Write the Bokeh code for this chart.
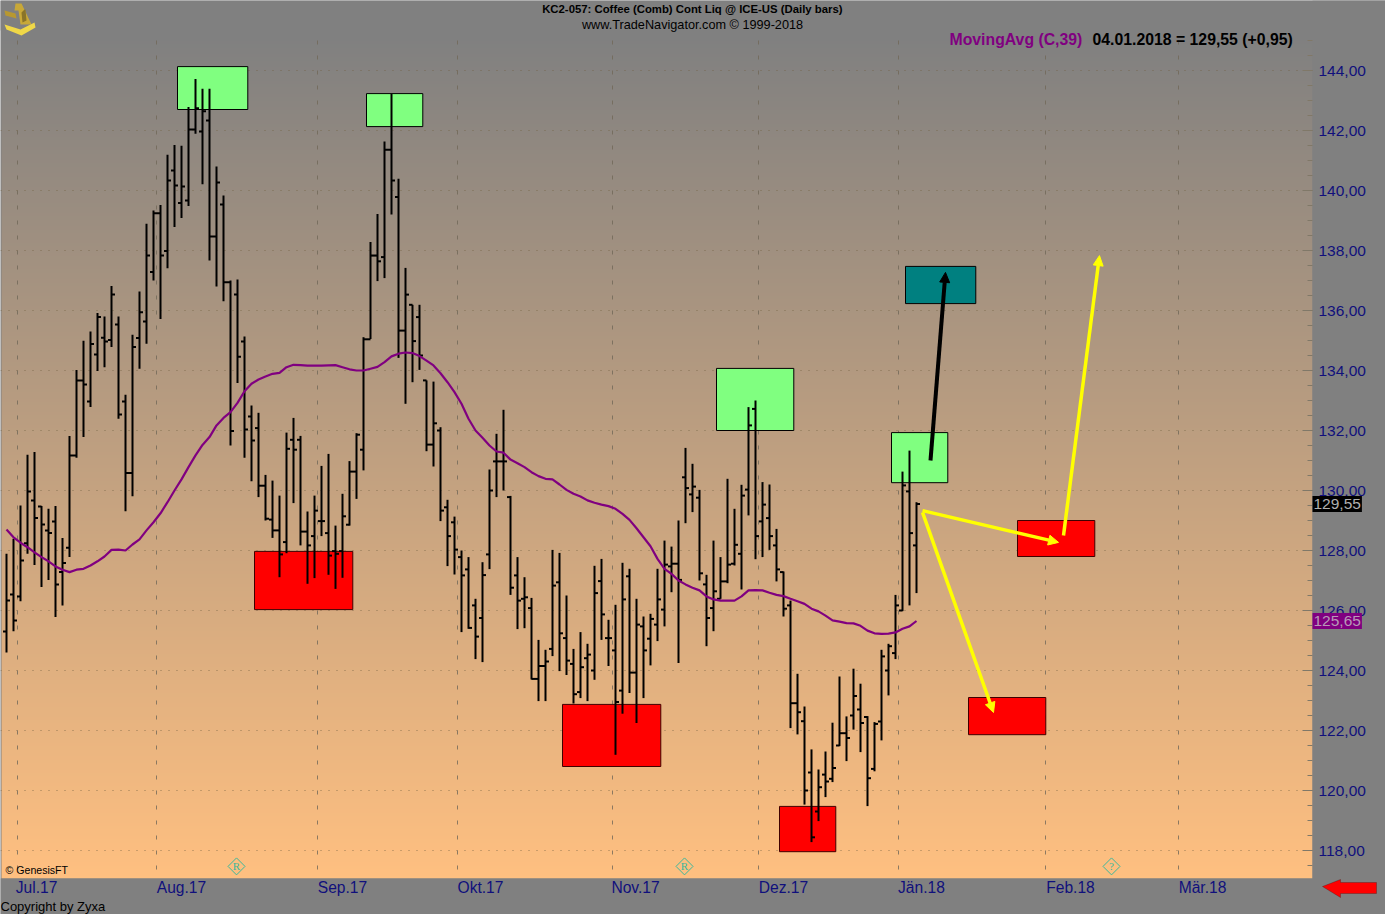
import numpy as np
from bokeh.embed import file_html
from bokeh.resources import INLINE
from bokeh.plotting import figure
from bokeh.models import (Arrow, ColumnDataSource, FixedTicker, Grid, Label, LinearAxis,
                          NormalHead, PolyAnnotation, Range1d)

# ---- daily bars ----
opens = [125.3,126.53,126.47,128.24,129.67,129.47,128.67,128.97,127.28,128.09,131.17,133.67,132.97,134.53,135.09,135.02,135.53,132.97,130.58,135.08,
         135.63,137.28,139.24,137.98,140.67,139.58,139.67,142.03,141.97,142.33,138.47,139.53,136.94,136.53,134.97,132.47,132.08,130.16,129.03,128.67,
         128.28,131.69,131.69,128.63,128.48,128.98,128.58,127.98,127.98,128.86,130.63,131.36,135.04,137.83,137.78,141.36,139.78,135.33,136.19,135.78,
         133.67,131.53,132.0,129.44,128.94,127.78,127.37,126.17,125.75,127.87,130.97,130.97,129.78,127.17,126.39,126.08,123.72,124.15,124.72,126.94,
         125.08,124.22,123.28,124.41,124.0,126.98,125.08,124.67,123.33,127.14,123.93,125.47,125.06,125.53,126.03,127.47,127.56,130.44,129.87,129.76,
         126.87,126.08,126.39,126.97,127.56,127.89,130.03,132.72,128.97,129.08,128.17,127.28,126.17,122.91,122.31,120.6,119.3,120.53,120.39,121.5,
         121.91,122.5,122.7,122.45,120.72,122.3,124.0,124.58,126.0,129.97,128.17]
highs = [127.89,128.39,129.5,131.19,131.28,129.48,129.39,129.48,128.42,131.82,134.02,134.99,135.3,135.92,135.8,136.82,135.8,133.19,135.19,136.63,
         138.89,139.33,139.52,141.19,141.52,141.49,142.78,143.72,143.39,143.39,140.8,139.83,137.0,137.03,135.13,132.83,132.59,130.52,130.33,129.83,
         131.93,132.42,131.82,129.3,129.83,130.82,131.22,128.83,129.89,130.98,131.91,135.11,138.28,139.22,141.63,143.22,140.39,137.42,136.19,136.19,
         133.67,133.63,132.11,129.69,129.13,128.0,127.78,126.39,127.61,130.7,131.89,132.69,129.82,127.78,127.11,126.42,125.02,124.69,128.02,127.92,
         126.5,124.72,125.28,124.89,127.49,127.72,125.69,126.19,127.59,127.39,126.39,125.8,125.89,127.39,128.33,128.13,129.0,131.42,130.89,130.02,
         127.19,128.33,127.78,130.39,129.39,130.19,132.78,133.0,130.28,130.2,128.72,127.3,126.33,123.89,122.8,121.37,120.7,121.3,122.26,123.8,
         122.47,124.06,123.56,122.48,122.28,124.69,124.89,126.52,130.63,131.33,129.61]
lows = [124.6,125.31,126.31,127.89,127.52,126.78,127.02,125.78,126.17,127.78,131.09,131.78,132.78,133.98,134.11,134.78,132.39,129.31,129.81,134.06,
        134.89,137.0,135.72,137.41,138.78,139.08,139.48,141.89,140.21,137.67,136.8,136.31,131.5,133.58,131.09,130.31,129.78,129.0,128.42,127.11,
        127.91,129.58,128.17,126.89,127.08,128.48,127.19,126.72,127.09,128.83,129.72,130.67,135.05,136.98,137.08,139.2,134.42,132.89,133.61,134.02,
        131.31,130.8,128.98,127.48,127.2,125.28,125.39,124.38,124.28,127.38,129.78,130.0,126.52,125.38,125.41,123.7,122.98,122.98,124.48,123.98,
        123.85,122.9,123.08,122.98,123.69,125.02,124.15,121.19,122.56,123.25,122.25,123.08,124.17,124.98,125.47,126.61,124.25,128.91,129.28,127.0,
        124.81,125.31,126.39,126.91,127.5,126.7,129.17,127.71,127.78,128.02,126.97,125.8,122.08,121.87,119.53,118.28,118.98,119.78,120.28,121.48,
        120.98,122.03,121.28,119.48,120.64,121.67,123.17,124.38,125.98,126.17,126.58]
closes = [126.33,125.67,127.67,129.97,129.08,128.87,128.58,126.87,127.58,131.17,133.67,133.53,134.88,135.78,134.97,136.53,132.53,130.58,134.78,135.94,
          137.83,139.24,137.83,140.33,140.17,140.13,142.03,142.74,142.64,138.47,140.27,136.94,131.98,134.46,132.03,131.67,130.16,129.06,128.67,127.87,
          131.39,131.36,128.63,128.17,129.33,128.98,127.83,127.89,129.14,130.63,131.86,135.04,137.83,137.64,141.36,140.33,135.33,136.53,134.98,134.5,
          131.53,132.24,129.33,128.48,128.03,127.17,125.42,125.13,127.18,130.0,130.97,130.97,126.76,126.33,126.44,123.72,124.15,124.3,126.83,125.24,
          124.33,123.21,124.11,124.53,126.58,125.87,125.08,122.95,126.37,123.93,125.53,124.67,125.72,126.37,127.53,127.56,127.02,130.08,130.13,127.24,
          125.75,126.64,126.97,127.53,128.19,129.83,132.17,128.48,129.53,128.48,127.37,126.06,122.91,122.61,120.0,118.44,120.11,120.3,120.75,121.91,
          121.75,123.15,122.25,120.41,122.22,124.47,124.81,126.17,130.17,128.58,129.55]
moving_avg = [128.7,128.44,128.26,128.11,127.94,127.78,127.64,127.47,127.36,127.28,127.36,127.39,127.5,127.64,127.8,128.02,128.03,128.0,128.2,128.37,
              128.67,128.94,129.24,129.61,130.0,130.37,130.78,131.17,131.52,131.78,132.17,132.42,132.61,132.92,133.31,133.56,133.7,133.8,133.89,133.92,
              134.11,134.19,134.18,134.16,134.16,134.16,134.17,134.18,134.11,134.04,134.0,134.0,134.06,134.12,134.28,134.47,134.56,134.6,134.58,134.48,
              134.33,134.17,133.91,133.61,133.28,132.89,132.39,132.0,131.76,131.5,131.3,131.26,131.03,130.91,130.78,130.61,130.48,130.39,130.37,130.2,
              130.02,129.89,129.8,129.67,129.59,129.53,129.48,129.39,129.22,129.02,128.74,128.44,128.14,127.72,127.39,127.22,127.0,126.87,126.76,126.67,
              126.47,126.37,126.33,126.33,126.33,126.47,126.67,126.68,126.67,126.59,126.52,126.48,126.39,126.31,126.22,126.06,125.97,125.83,125.67,125.63,
              125.58,125.57,125.49,125.33,125.24,125.22,125.23,125.27,125.39,125.47,125.65]

# ---- hand-drawn zones: bar index left/right, price bottom/top ----
green_left = [24.43, 51.43, 101.43, 126.43]
green_right = [34.47, 59.47, 112.47, 134.47]
green_bottom = [142.7, 142.13, 132.0, 130.26]
green_top = [144.13, 143.23, 134.07, 131.93]
red_left = [35.43, 79.43, 110.43, 137.43, 144.43]
red_right = [49.47, 93.47, 118.47, 148.47, 155.47]
red_bottom = [126.03, 120.8, 117.96, 121.86, 127.8]
red_top = [127.97, 122.87, 119.47, 123.1, 129.0]
teal_left = [128.43]
teal_right = [138.47]
teal_bottom = [136.23]
teal_top = [137.47]

# arrows: x0, y0, x1, y1
black_arrow = (132.0, 131.0, 134.14, 137.27)
yellow_arrows = [(130.86, 129.33, 150.29, 128.27),
                 (151.0, 128.5, 156.14, 137.83),
                 (130.86, 129.27, 141.0, 122.6)]

# ---- axes ----
price_ticks = list(range(118, 146, 2))
price_tick_labels = {v: f"{v},00" for v in price_ticks}
month_starts = [1.57, 21.43, 44.43, 64.43, 86.57, 107.43, 127.43, 148.43, 167.43]
month_label_pos = [4.29, 25.0, 48.0, 67.71, 89.86, 111.0, 130.71, 152.0, 170.86]
month_labels = ["Jul.17", "Aug.17", "Sep.17", "Okt.17", "Nov.17", "Dez.17", "Jän.18", "Feb.18", "Mär.18"]
event_x = [32.86, 96.86, 157.86]
event_y = [117.47, 117.47, 117.47]
event_text = ["R", "R", "?"]

FONT = "Liberation Sans"
NAVY = "#10107c"
W, H = 1385, 914

def ix(px):
    return (px - 6) / 7

def pr(py):
    return 144 - (py - 70) / 30

p = figure(width=W, height=H, output_backend="svg", toolbar_location=None,
           x_axis_type=None, y_axis_type=None,
           x_range=Range1d(ix(0), ix(W)), y_range=Range1d(pr(H), pr(0)),
           min_border=0, background_fill_color="#808080",
           border_fill_color="#808080", outline_line_color=None)

plot_l, plot_r, plot_t, plot_b = ix(1), ix(1312), pr(30), pr(878)

# background gradient
n = 256
t = np.linspace(1, 0, n)          # image row 0 is at the bottom
top_c = (128, 128, 128)
bot_c = (255, 192, 128)
img = np.zeros((n, 1), dtype=np.uint32)
view = img.view(dtype=np.uint8).reshape((n, 1, 4))
for c in range(3):
    view[:, 0, c] = (top_c[c] + (bot_c[c] - top_c[c]) * t).astype(np.uint8)
view[:, 0, 3] = 255
p.image_rgba(image=[img], x=plot_l, y=plot_b, dw=plot_r - plot_l, dh=plot_t - plot_b, level="image")

# grids
p.add_layout(Grid(dimension=1, ticker=FixedTicker(ticks=price_ticks), grid_line_color="#706040",
                  grid_line_alpha=0.7, grid_line_dash=[1, 7], grid_line_width=1))
p.add_layout(Grid(dimension=0, ticker=FixedTicker(ticks=month_starts), grid_line_color="#706858",
                  grid_line_alpha=0.8, grid_line_dash=[4, 11], grid_line_width=1))

# gray margins covering the grid outside the plot area
p.quad(left=[plot_r, ix(0), ix(0)], right=[ix(W), ix(W), ix(W)],
       bottom=[pr(H), plot_t, pr(H)], top=[pr(0), pr(0), plot_b],
       fill_color="#808080", line_color=None)

# axes (fixed at the plot area's edges)
right = LinearAxis(fixed_location=plot_r,
                   ticker=FixedTicker(ticks=price_ticks, minor_ticks=list(np.arange(117.5, 145.5, 0.5))),
                   major_label_overrides=price_tick_labels,
                   major_label_text_font=FONT, major_label_text_font_size="15.5px",
                   major_label_text_color=NAVY, major_label_standoff=6,
                   major_tick_in=10, major_tick_out=0, minor_tick_in=5, minor_tick_out=0,
                   major_tick_line_color="#807868", minor_tick_line_color="#807868",
                   axis_line_color=None)
p.add_layout(right, "right")
bottom = LinearAxis(fixed_location=plot_b,
                    ticker=FixedTicker(ticks=month_label_pos),
                    major_label_overrides=dict(zip(month_label_pos, month_labels)),
                    major_label_text_font=FONT, major_label_text_font_size="15.6px",
                    major_label_text_color=NAVY, major_label_standoff=0,
                    major_tick_in=0, major_tick_out=0, minor_tick_in=0, minor_tick_out=0,
                    axis_line_color=None)
p.add_layout(bottom, "below")

# zones
p.quad(left=green_left, right=green_right, bottom=green_bottom, top=green_top,
       fill_color="#80FF80", line_color="#000000", line_width=1)
p.quad(left=red_left, right=red_right, bottom=red_bottom, top=red_top,
       fill_color="#FF0000", line_color="#400000", line_width=1)
p.quad(left=teal_left, right=teal_right, bottom=teal_bottom, top=teal_top,
       fill_color="#008080", line_color="#000000", line_width=1)

# OHLC bars
idx = np.arange(len(closes))
src = ColumnDataSource(dict(x=idx, o=opens, h=highs, l=lows, c=closes,
                            xl=idx - 0.5, xr=idx + 0.5))
p.segment(x0="x", y0="l", x1="x", y1="h", source=src, line_color="black", line_width=2)
p.segment(x0="xl", y0="o", x1="x", y1="o", source=src, line_color="black", line_width=2)
p.segment(x0="x", y0="c", x1="xr", y1="c", source=src, line_color="black", line_width=2)

# moving average
p.line(idx, moving_avg, line_color="#800080", line_width=2.2)

# event diamonds
p.scatter(event_x, event_y, marker="square", angle=np.pi / 4, size=12,
          fill_color=None, line_color="#3CB89C", line_width=1)
p.text(event_x, event_y, text=event_text, text_font=FONT, text_font_size="11px",
       text_color="#3CB89C", text_align="center", text_baseline="middle")

# arrows
x0, y0, x1, y1 = black_arrow
p.add_layout(Arrow(end=NormalHead(size=10, fill_color="black", line_color="black"),
                   x_start=x0, y_start=y0, x_end=x1, y_end=y1,
                   line_color="black", line_width=4))
for x0, y0, x1, y1 in yellow_arrows:
    p.add_layout(Arrow(end=NormalHead(size=10, fill_color="#FFFF00", line_color="#FFFF00"),
                       x_start=x0, y_start=y0, x_end=x1, y_end=y1,
                       line_color="#FFFF00", line_width=3.5))

# texts in canvas px
def text(s, x, y, size, color="black", bold=False, align="left"):
    p.add_layout(Label(x=x, y=y, x_units="canvas", y_units="canvas", text=s,
                       text_font=FONT, text_font_size=f"{size}px", text_color=color,
                       text_font_style="bold" if bold else "normal",
                       text_align=align, text_baseline="middle"))

text("KC2-057:  Coffee (Comb) Cont Liq @ ICE-US  (Daily bars)", 695, 8, 11.35, bold=True, align="center")
text("www.TradeNavigator.com © 1999-2018", 692, 24, 12.7, align="center")
text("MovingAvg (C,39)", 949, 39, 15.8, color="#800080", bold=True)
text("04.01.2018 = 129,55 (+0,95)", 1092, 39, 15.8, bold=True)
text("© GenesisFT", 5, 869, 10.6)
text("Copyright by Zyxa", 0, 906, 13)

# last-value tags
def tag(value, fill, color):
    p.add_layout(Label(x=1312, y=value, x_units="canvas", y_units="data",
                       text=f"{value:.2f}".replace(".", ","),
                       text_font=FONT, text_font_size="15.5px", text_color=color,
                       text_baseline="middle", background_fill_color=fill, padding=(1, 3)))

tag(closes[-1], "#000000", "#B0B0B0")
tag(moving_avg[-1], "#800080", "#B898B8")

# decorations: red scroll arrow and sextant logo (canvas px)
def poly(xs, ys, fill, line=None):
    p.add_layout(PolyAnnotation(xs=xs, ys=ys, xs_units="canvas", ys_units="canvas",
                                fill_color=fill, fill_alpha=1, line_color=line, line_width=1))

poly([1322, 1340, 1340, 1376, 1376, 1340, 1340], [886, 879, 882, 882, 893, 893, 897], "#FF0000", "#301010")
poly([4, 15, 16, 5], [10, 13, 18, 15], "#B89830")
poly([15, 21, 31, 20, 18, 14], [3, 3, 24, 24, 10, 10], "#C8A838")
poly([21, 24, 25, 26, 22], [12, 9, 9, 20, 22], "#8A7428")
poly([4, 20, 34, 35, 21, 6], [24, 29, 22, 27, 35, 29], "#F0D848")

open("out.html", "w").write(file_html(p, INLINE))
